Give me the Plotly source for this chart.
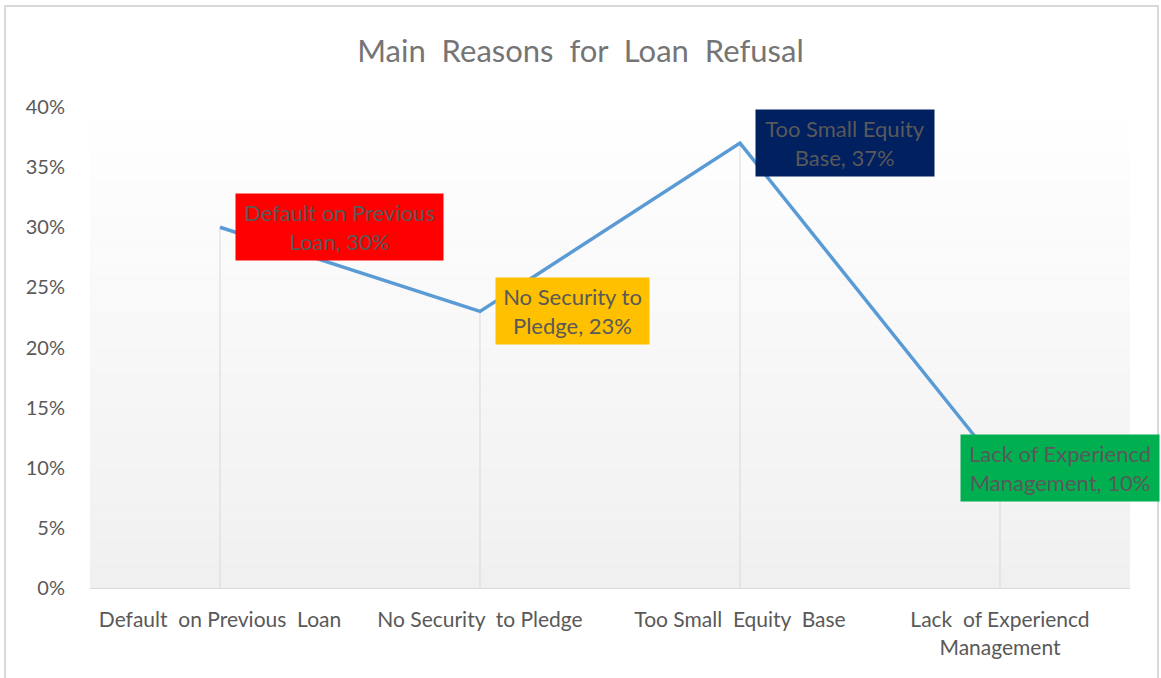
import plotly.graph_objects as go

categories = ["Default on Previous Loan", "No Security to Pledge", "Too Small Equity Base", "Lack of Experiencd Management"]
tick_labels = ["Default  on Previous  Loan", "No Security  to Pledge", "Too Small  Equity  Base", "Lack  of Experiencd<br>Management"]
values = [0.30, 0.23, 0.37, 0.10]
label_lines = [["Default on Previous", "Loan"], ["No Security to", "Pledge"], ["Too Small Equity", "Base"], ["Lack of Experiencd", "Management"]]
label_colors = ["#FF0000", "#FFC000", "#002060", "#00B050"]
y_ticks = [0, 0.05, 0.10, 0.15, 0.20, 0.25, 0.30, 0.35, 0.40]

FONT = "Lato"
x_idx = list(range(len(categories)))

fig = go.Figure()

# drop lines
for i, v in zip(x_idx, values):
    fig.add_trace(go.Scatter(x=[i, i], y=[0, v], mode="lines",
                             line=dict(color="#d9d9d9", width=1), hoverinfo="skip", showlegend=False))

fig.add_trace(go.Scatter(x=x_idx, y=values, mode="lines",
                         line=dict(color="#5B9BD5", width=3.5), showlegend=False,
                         hovertext=categories))

# gradient background bands
shapes = []
n = 40
for k in range(n):
    t = k / n
    c = int(round(255 - (255 - 240) * (1 - t)))
    shapes.append(dict(type="rect", xref="x domain", yref="y domain", x0=0, x1=1,
                       y0=t, y1=(k + 1) / n, fillcolor=f"rgb({c},{c},{c})",
                       line=dict(width=0), layer="below"))
# outer chart frame
shapes.append(dict(type="rect", xref="paper", yref="paper", x0=-0.0817, x1=1.0269,
                   y0=-0.4, y1=1.21, line=dict(color="#d9d9d9", width=2),
                   fillcolor="rgba(0,0,0,0)", layer="below"))

annotations = []
widths = [207, 153, 178, 198]
xshifts = [15, 15, 15, -40]
for i, (v, lines, col, w, xs) in enumerate(zip(values, label_lines, label_colors, widths, xshifts)):
    txt = f"{lines[0]}<br>{lines[1]}, {int(round(v*100))}%"
    annotations.append(dict(x=i, y=v, xref="x", yref="y", text=txt, showarrow=False,
                            xanchor="left", yanchor="middle", xshift=xs, yshift=0,
                            bgcolor=col, width=w, height=66, borderpad=0,
                            font=dict(family=FONT, size=22, color="#595959"), align="center"))

fig.update_layout(
    width=1161, height=678,
    paper_bgcolor="white", plot_bgcolor="rgba(0,0,0,0)",
    margin=dict(l=90, r=31, t=107, b=90),
    title=dict(text="Main  Reasons  for  Loan  Refusal", x=0.5, xanchor="center", y=0.925, yanchor="middle",
               font=dict(family=FONT, size=31, color="#757575")),
    shapes=shapes, annotations=annotations,
    xaxis=dict(range=[-0.5, 3.5], tickvals=x_idx, ticktext=tick_labels, showgrid=False,
               zeroline=False, showline=True, linecolor="#d9d9d9", linewidth=1, ticks="",
               ticklabelstandoff=13,
               tickfont=dict(family=FONT, size=21, color="#595959"), fixedrange=True),
    yaxis=dict(range=[0, 0.40], tickvals=y_ticks, tickformat=".0%", showgrid=False,
               zeroline=False, showline=False, ticks="", ticklabelstandoff=24,
               tickfont=dict(family=FONT, size=20, color="#595959")),
    hovermode=False,
)

fig.write_html("out.html", config={"displayModeBar": False},
               post_script="document.body.style.margin='0';document.body.style.overflow='hidden';")
